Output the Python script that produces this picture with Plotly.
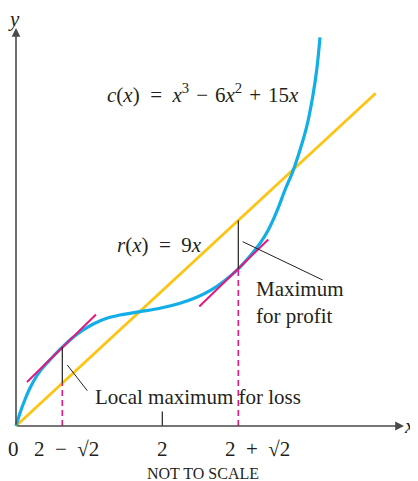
import plotly.graph_objects as go

# Not to scale: coordinates are drawing units (1 unit = 10 px)
cost_x = [0, 0.4, 0.9, 1.4, 2.07, 2.73, 3.57, 4.63, 5.57, 6.57, 7.73, 9.07, 10.4, 12.4,
          14.4, 16.4, 18.07, 19.4, 20.73, 22.23, 23.4, 24.4, 25.23, 26.07, 26.9, 27.67,
          28.4, 29.07, 29.67, 30.07, 30.4]
cost_y = [0, 1.3, 2.65, 3.8, 5.0, 5.9, 6.8, 7.88, 8.75, 9.5, 10.2, 10.77, 11.1, 11.43,
          11.77, 12.27, 12.87, 13.53, 14.43, 15.72, 17.0, 18.27, 19.6, 21.43, 23.6, 25.43,
          27.6, 29.93, 32.93, 35.6, 38.87]

revenue_x = [0, 35.97]
revenue_y = [0, 33.27]

loss_tangent_x = [1.1, 8.0]
loss_tangent_y = [4.4, 11.15]
profit_tangent_x = [18.33, 25.23]
profit_tangent_y = [11.95, 18.65]

# points of tangency and the revenue line above/below them
loss_x, loss_cost, loss_rev = 4.63, 7.88, 4.28
profit_x, profit_cost, profit_rev = 22.23, 15.72, 20.56

tick_vals = [0, 4.67, 14.63, 22.27]
tick_text = ["0", "2\u2002−\u2002√2", "2", "2\u2002+\u2002√2"]
tick_shift = [-3, 4, 0, 19]

BLUE = "#12aee8"
YELLOW = "#fdc412"
PINK = "#e4197f"
AXIS = "#4a4a4a"
INK = "#231f20"
FONT = "Liberation Serif, Times New Roman, serif"

fig = go.Figure()

fig.add_trace(go.Scatter(x=revenue_x, y=revenue_y, mode="lines",
                         line=dict(color=YELLOW, width=2.8)))
fig.add_trace(go.Scatter(x=cost_x, y=cost_y, mode="lines",
                         line=dict(color=BLUE, width=3.2, shape="spline", smoothing=1.0)))

fig.add_trace(go.Scatter(x=loss_tangent_x, y=loss_tangent_y, mode="lines",
                         line=dict(color=PINK, width=2)))
fig.add_trace(go.Scatter(x=profit_tangent_x, y=profit_tangent_y, mode="lines",
                         line=dict(color=PINK, width=2)))

# dashed drops to the x axis
fig.add_trace(go.Scatter(x=[loss_x, loss_x], y=[0, loss_rev], mode="lines",
                         line=dict(color=PINK, width=1.6, dash="6px,4px")))
fig.add_trace(go.Scatter(x=[profit_x, profit_x], y=[0, profit_cost], mode="lines",
                         line=dict(color=PINK, width=1.6, dash="6px,4px")))

# gaps between cost and revenue
fig.add_trace(go.Scatter(x=[loss_x, loss_x], y=[loss_rev, loss_cost], mode="lines",
                         line=dict(color=INK, width=1.2)))
fig.add_trace(go.Scatter(x=[profit_x, profit_x], y=[profit_cost, profit_rev], mode="lines",
                         line=dict(color=INK, width=1.2)))

# leader lines for the labels
fig.add_trace(go.Scatter(x=[5.13, 7.13], y=[6.1, 3.53], mode="lines",
                         line=dict(color=INK, width=1)))
fig.add_trace(go.Scatter(x=[22.67, 30.67], y=[18.43, 14.6], mode="lines",
                         line=dict(color=INK, width=1)))

# tick at x = 2
fig.add_trace(go.Scatter(x=[tick_vals[2], tick_vals[2]], y=[0, 1.45], mode="lines",
                         line=dict(color=INK, width=1.2)))

# axes with arrows
for ax, ay, x, y in [(0, 0, 38.8, 0), (0, 0, 0, 39.8)]:
    fig.add_annotation(x=x, y=y, ax=ax, ay=ay, xref="x", yref="y", axref="x", ayref="y",
                       text="", showarrow=True, arrowhead=2, arrowsize=1.1,
                       arrowwidth=1.6, arrowcolor=AXIS)

text_font = dict(family=FONT, size=21, color=INK)

for val, lab, dx in zip(tick_vals, tick_text, tick_shift):
    fig.add_annotation(x=val, y=-2.3, text=lab, showarrow=False, xshift=dx,
                       font=text_font, xanchor="center", yanchor="middle")

fig.add_annotation(x=39.3, y=0, text="<i>x</i>", showarrow=False, font=text_font,
                   xanchor="center", yanchor="middle")
fig.add_annotation(x=-0.2, y=40.7, text="<i>y</i>", showarrow=False, font=text_font,
                   xanchor="center", yanchor="middle")

fig.add_annotation(x=18.7, y=33.27,
                   text="<i>c</i>(<i>x</i>)\u2002=\u2002<i>x</i><sup>3</sup>\u2004−\u2004"
                        "6<i>x</i><sup>2</sup>\u2004+\u200415<i>x</i>",
                   showarrow=False, font=text_font, xanchor="center", yanchor="middle")
fig.add_annotation(x=14.33, y=18.1, text="<i>r</i>(<i>x</i>)\u2002=\u20029<i>x</i>",
                   showarrow=False, font=text_font, xanchor="center", yanchor="middle")
fig.add_annotation(x=23.8, y=12.35, text="Maximum<br>for profit", align="left",
                   showarrow=False, font=text_font, xanchor="left", yanchor="middle")
fig.add_annotation(x=7.67, y=2.93, text="Local maximum for loss",
                   showarrow=False, font=text_font, xanchor="left", yanchor="middle")
fig.add_annotation(x=18.7, y=-4.7, text="NOT TO SCALE", showarrow=False,
                   font=dict(family=FONT, size=16, color=INK),
                   xanchor="center", yanchor="middle")

# the page adds an 8 px body margin, so the figure is sized to fit inside it
fig.update_layout(
    width=410,
    height=473,
    margin=dict(l=0, r=0, t=0, b=0),
    showlegend=False,
    plot_bgcolor="white",
    paper_bgcolor="white",
    xaxis=dict(range=[-0.8, 40.2], visible=False, fixedrange=True),
    yaxis=dict(range=[-5.5, 41.8], visible=False, fixedrange=True),
)

fig.write_html("out.html")
